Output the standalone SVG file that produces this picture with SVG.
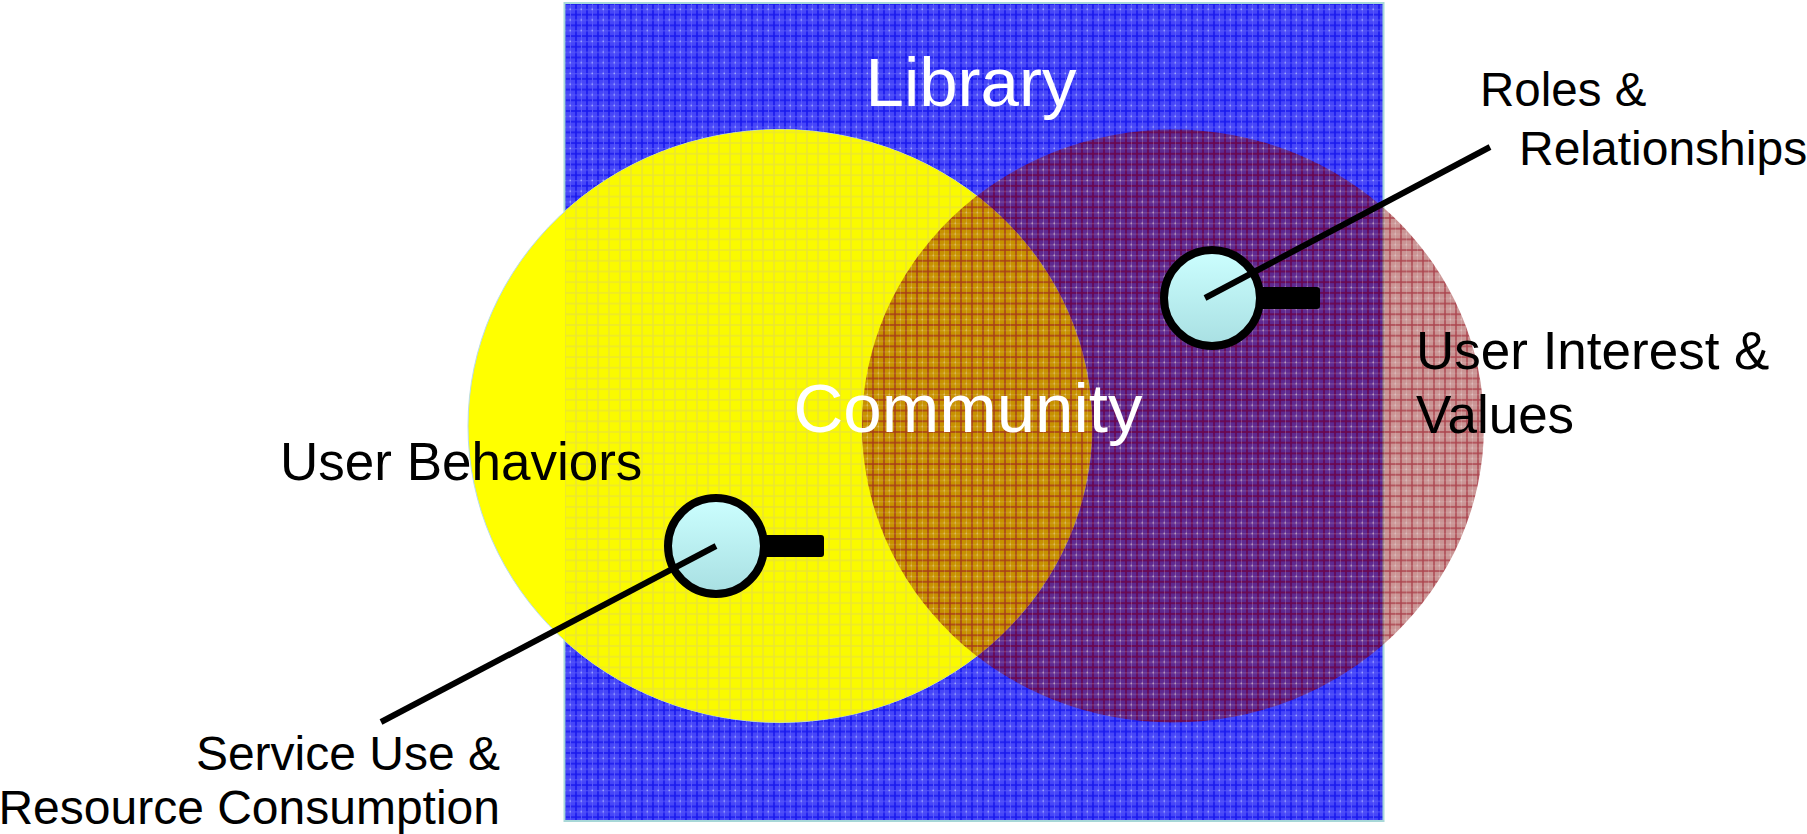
<svg xmlns="http://www.w3.org/2000/svg" width="1807" height="834" viewBox="0 0 1807 834">
<style>
text{font-family:"Liberation Sans",Arial,sans-serif;fill:#000}
.b{font-size:53px}
.s{font-size:48px}
.w{fill:#fff;font-size:69px}
.l{stroke:#000;stroke-width:6;fill:none}
.lens{stroke:#000;stroke-width:8;fill:url(#lens)}
</style>
<defs>
<linearGradient id="lens" x1="0" y1="0" x2="0" y2="1"><stop offset="0" stop-color="#ccffff"/><stop offset="1" stop-color="#a8dfe2"/></linearGradient>
<pattern id="blue" width="11" height="10.700" patternUnits="userSpaceOnUse" x="564" y="3">
<rect width="11" height="11" fill="#4646f8"/>
<path d="M0 1H11M1 0V11" stroke="#1818ee" stroke-width="1.600"/>
<path d="M0 6.500H11M6.500 0V11" stroke="#5858fa" stroke-width="1"/>
<rect x="5.500" y="5.500" width="1.500" height="1.500" fill="#a0a8ff"/>
</pattern>
<pattern id="yel" width="11" height="10.700" patternUnits="userSpaceOnUse" x="564" y="3">
<rect width="11" height="11" fill="#fafa00"/>
<path d="M0 1H11M1 0V11" stroke="#ece630" stroke-width="1.600"/>
</pattern>
<pattern id="red" width="11" height="10.700" patternUnits="userSpaceOnUse" x="564" y="3">
<rect width="11" height="11" fill="#800000" fill-opacity=".42"/>
<path d="M0 1H11M1 0V11" stroke="#900010" stroke-width="1.400" stroke-opacity=".55"/>
<path d="M0 6.500H11M6.500 0V11" stroke="#fff" stroke-width="1" stroke-opacity=".15"/>
<rect x="5.500" y="5.500" width="1.500" height="1.500" fill="#fff" fill-opacity=".3"/>
</pattern>
<clipPath id="yc"><ellipse cx="780" cy="426" rx="312" ry="296.500"/></clipPath>
</defs>
<g id="library"><rect x="564.500" y="3" width="819" height="818" fill="url(#blue)" stroke="#a8d8d8" stroke-width="2"/><text class="w" x="971" y="106" text-anchor="middle">Library</text></g>
<g id="behaviors"><ellipse cx="780" cy="426" rx="312" ry="296.500" fill="#ffff00" stroke="#b8dce8" stroke-width="1"/><rect x="565" y="100" width="540" height="640" fill="url(#yel)" clip-path="url(#yc)"/></g>
<g id="interest"><ellipse cx="1173" cy="426" rx="311" ry="296.500" fill="url(#red)"/></g>
<g id="community"><text class="w" x="968" y="432" text-anchor="middle">Community</text></g>
<g id="labels">
<text class="b" x="280" y="480">User Behaviors</text>
<text class="b" x="1416" y="369">User Interest &amp;</text>
<text class="b" x="1416" y="433">Values</text>
<text class="s" x="1480" y="106" style="font-size:47.500px">Roles &amp;</text>
<text class="s" x="1519" y="165">Relationships</text>
<text class="s" x="500" y="770" text-anchor="end">Service Use &amp;</text>
<text class="s" x="500" y="824" text-anchor="end">Resource Consumption</text>
</g>
<g id="lens-a"><rect x="762" y="535" width="62" height="22" rx="3"/><circle cx="716" cy="546" r="48" class="lens"/></g>
<g id="lens-b"><rect x="1258" y="287" width="62" height="22" rx="3"/><circle cx="1212" cy="298" r="48" class="lens"/></g>
<g id="connectors">
<path class="l" d="M716 546L381 722"/>
<path class="l" d="M1205 298L1490 147"/>
</g>
</svg>
